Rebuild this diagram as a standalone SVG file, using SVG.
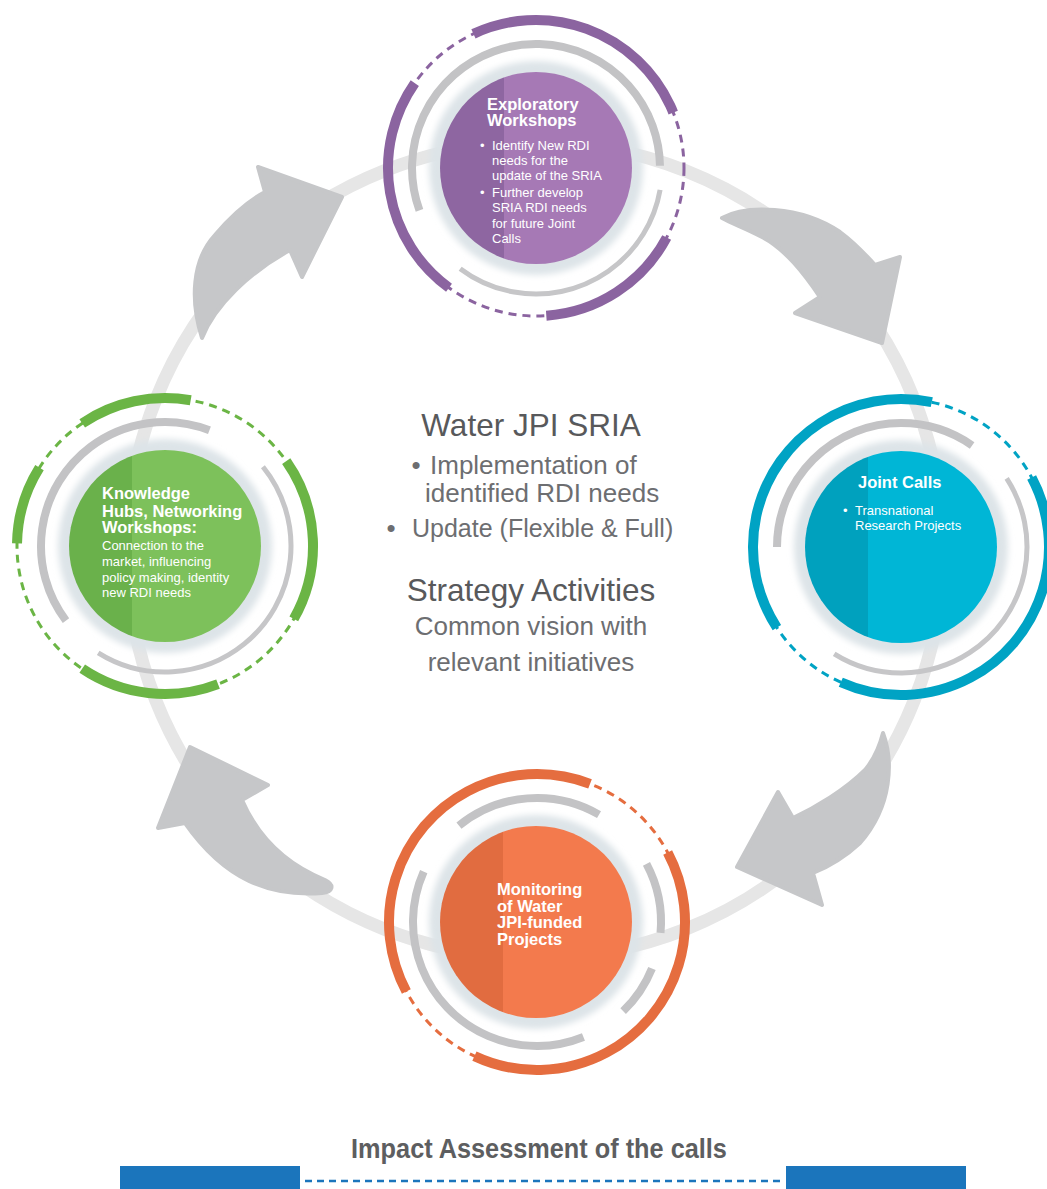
<svg xmlns="http://www.w3.org/2000/svg" width="1047" height="1189" viewBox="0 0 1047 1189">
<defs>
<style>
.ring{fill:none;stroke:#e6e6e6;stroke-width:13}
.arrow{fill:#c6c7c9;stroke:#c6c7c9;stroke-width:4;stroke-linejoin:round}
.arc{fill:none;stroke-width:10}
.dash{fill:none;stroke-width:3;stroke-dasharray:8 6}
.gk{fill:none;stroke:#c3c3c5;stroke-width:8}
.gt{fill:none;stroke:#c6c6c8;stroke-width:5}
.halo{fill:#dde4e8;filter:url(#blur)}
.hb{font-family:"Liberation Sans",Arial,sans-serif;font-weight:bold;font-size:16.5px;fill:#fff}
.hr{font-family:"Liberation Sans",Arial,sans-serif;font-size:13px;fill:#fff}
.ch{font-family:"Liberation Sans",Arial,sans-serif;font-size:31.5px;fill:#58595b}
.cb{font-family:"Liberation Sans",Arial,sans-serif;font-size:26px;fill:#6d6e71}
.cb25{font-size:25px}
.purple{stroke:#8b64a0}
.teal{stroke:#00a3c4}
.orange{stroke:#e56d3f}
.green{stroke:#6bb545}
</style>
<filter id="blur" x="-20%" y="-20%" width="140%" height="140%"><feGaussianBlur stdDeviation="3"/></filter>
<linearGradient id="fPurple" x1="0" y1="0" x2="1" y2="0"><stop offset="0" stop-color="#8e66a1"/><stop offset="0.335" stop-color="#8e66a1"/><stop offset="0.335" stop-color="#a679b5"/><stop offset="1" stop-color="#a679b5"/></linearGradient>
<linearGradient id="fTeal" x1="0" y1="0" x2="1" y2="0"><stop offset="0" stop-color="#00a1be"/><stop offset="0.33" stop-color="#00a1be"/><stop offset="0.33" stop-color="#00b6d6"/><stop offset="1" stop-color="#00b6d6"/></linearGradient>
<linearGradient id="fOrange" x1="0" y1="0" x2="1" y2="0"><stop offset="0" stop-color="#e16c40"/><stop offset="0.33" stop-color="#e16c40"/><stop offset="0.33" stop-color="#f37a4d"/><stop offset="1" stop-color="#f37a4d"/></linearGradient>
<linearGradient id="fGreen" x1="0" y1="0" x2="1" y2="0"><stop offset="0" stop-color="#6ab14b"/><stop offset="0.33" stop-color="#6ab14b"/><stop offset="0.33" stop-color="#7dc15b"/><stop offset="1" stop-color="#7dc15b"/></linearGradient>
</defs>
<rect width="1047" height="1189" fill="#ffffff"/>

<g id="connectors">
<circle class="ring" cx="535" cy="550" r="408"/>
<path id="arrow-tl" class="arrow" d="M265,192 L258,167 L342,197 L302,277 L290,250 C250,272 215,305 202,338 C190,300 192,260 215,235 C232,215 250,200 265,192 Z"/>
<path id="arrow-tr" class="arrow" d="M722,218 C745,205 800,205 840,232 C855,243 866,255 875,265 L900,257 L882,343 L795,313 L820,297 C805,275 785,248 760,236 C745,228 733,224 722,218 Z"/>
<path id="arrow-br" class="arrow" d="M883,733 C893,760 893,805 860,843 C845,857 830,866 813,873 L822,905 L737,867 L778,792 L793,818 C815,808 845,790 865,770 C875,758 880,745 883,733 Z"/>
<path id="arrow-bl" class="arrow" d="M190,747 L268,785 L242,800 C255,830 280,862 325,880 C335,885 333,892 322,893 C270,897 225,880 185,823 L158,828 Z"/>
</g>

<g id="node-exploratory">
<circle class="dash purple" cx="536" cy="168" r="148"/>
<circle class="arc purple" cx="536" cy="168" r="148" pathLength="360" stroke-dasharray="93 360" transform="rotate(245 536 168)"/>
<circle class="arc purple" cx="536" cy="168" r="148" pathLength="360" stroke-dasharray="58 360" transform="rotate(28 536 168)"/>
<circle class="arc purple" cx="536" cy="168" r="148" pathLength="360" stroke-dasharray="89 360" transform="rotate(126 536 168)"/>
<circle class="gk" cx="536" cy="168" r="124" pathLength="360" stroke-dasharray="199 360" transform="rotate(160 536 168)"/>
<circle class="gt" cx="536" cy="168" r="126" pathLength="360" stroke-dasharray="117 360" transform="rotate(10 536 168)"/>
<circle class="halo" cx="536" cy="168" r="107"/>
<circle cx="536" cy="168" r="96" fill="url(#fPurple)"/>
<text class="hb" x="487" y="110">Exploratory</text>
<text class="hb" x="487" y="126">Workshops</text>
<text class="hr" x="480" y="150">•</text>
<text class="hr" x="492" y="150">Identify New RDI</text>
<text class="hr" x="492" y="165">needs for the</text>
<text class="hr" x="492" y="180">update of the SRIA</text>
<text class="hr" x="480" y="197">•</text>
<text class="hr" x="492" y="197">Further develop</text>
<text class="hr" x="492" y="212">SRIA RDI needs</text>
<text class="hr" x="492" y="228">for future Joint</text>
<text class="hr" x="492" y="243">Calls</text>
</g>

<g id="node-joint-calls">
<circle class="dash teal" cx="901" cy="547" r="148"/>
<circle class="arc teal" cx="901" cy="547" r="148" pathLength="360" stroke-dasharray="135 360" transform="rotate(147 901 547)"/>
<circle class="arc teal" cx="901" cy="547" r="148" pathLength="360" stroke-dasharray="142 360" transform="rotate(-28 901 547)"/>
<circle class="gk" cx="901" cy="547" r="124" pathLength="360" stroke-dasharray="125 360" transform="rotate(180 901 547)"/>
<circle class="gt" cx="901" cy="547" r="126" pathLength="360" stroke-dasharray="155 360" transform="rotate(-33 901 547)"/>
<circle class="halo" cx="901" cy="547" r="107"/>
<circle cx="901" cy="547" r="96" fill="url(#fTeal)"/>
<text class="hb" x="858" y="488">Joint Calls</text>
<text class="hr" x="843" y="515">•</text>
<text class="hr" x="855" y="515">Transnational</text>
<text class="hr" x="855" y="530">Research Projects</text>
</g>

<g id="node-monitoring">
<circle class="dash orange" cx="537" cy="922" r="148"/>
<circle class="arc orange" cx="537" cy="922" r="148" pathLength="360" stroke-dasharray="139 360" transform="rotate(152 537 922)"/>
<circle class="arc orange" cx="537" cy="922" r="148" pathLength="360" stroke-dasharray="143 360" transform="rotate(-28 537 922)"/>
<circle class="gk" cx="537" cy="922" r="124" pathLength="360" stroke-dasharray="69 360" transform="rotate(231 537 922)"/>
<circle class="gk" cx="537" cy="922" r="124" pathLength="360" stroke-dasharray="136 360" transform="rotate(68 537 922)"/>
<circle class="gk" cx="537" cy="922" r="124" pathLength="360" stroke-dasharray="33 360" transform="rotate(-28 537 922)"/>
<circle class="gk" cx="537" cy="922" r="124" pathLength="360" stroke-dasharray="24 360" transform="rotate(22 537 922)"/>
<circle class="halo" cx="536" cy="922" r="107"/>
<circle cx="536" cy="922" r="96" fill="url(#fOrange)"/>
<text class="hb" x="497" y="895">Monitoring</text>
<text class="hb" x="497" y="912">of Water</text>
<text class="hb" x="497" y="928">JPI-funded</text>
<text class="hb" x="497" y="945">Projects</text>
</g>

<g id="node-knowledge">
<circle class="dash green" cx="165" cy="546" r="148"/>
<circle class="arc green" cx="165" cy="546" r="148" pathLength="360" stroke-dasharray="44 360" transform="rotate(236 165 546)"/>
<circle class="arc green" cx="165" cy="546" r="148" pathLength="360" stroke-dasharray="31 360" transform="rotate(181 165 546)"/>
<circle class="arc green" cx="165" cy="546" r="148" pathLength="360" stroke-dasharray="64.5 360" transform="rotate(-35 165 546)"/>
<circle class="arc green" cx="165" cy="546" r="148" pathLength="360" stroke-dasharray="55 360" transform="rotate(69 165 546)"/>
<circle class="gk" cx="165" cy="546" r="124" pathLength="360" stroke-dasharray="148 360" transform="rotate(143 165 546)"/>
<circle class="gt" cx="165" cy="546" r="126" pathLength="360" stroke-dasharray="161 360" transform="rotate(-39 165 546)"/>
<circle class="halo" cx="165" cy="546" r="107"/>
<circle cx="165" cy="546" r="96" fill="url(#fGreen)"/>
<text class="hb" x="102" y="499">Knowledge</text>
<text class="hb" x="102" y="517">Hubs, Networking</text>
<text class="hb" x="102" y="533">Workshops:</text>
<text class="hr" x="102" y="550">Connection to the</text>
<text class="hr" x="102" y="566">market, influencing</text>
<text class="hr" x="102" y="582">policy making, identity</text>
<text class="hr" x="102" y="597">new RDI needs</text>
</g>

<g id="center-text">
<text class="ch" x="531" y="436" text-anchor="middle">Water JPI SRIA</text>
<text class="cb" x="416" y="474" text-anchor="middle">•</text>
<text class="cb" x="430" y="474">Implementation of</text>
<text class="cb" x="425" y="502">identified RDI needs</text>
<text class="cb" x="391" y="537" text-anchor="middle">•</text>
<text class="cb cb25" x="412" y="537">Update (Flexible &amp; Full)</text>
<text class="ch" x="531" y="601" text-anchor="middle">Strategy Activities</text>
<text class="cb" x="531" y="635" text-anchor="middle">Common vision with</text>
<text class="cb" x="531" y="671" text-anchor="middle">relevant initiatives</text>
</g>

<g id="impact">
<text transform="translate(539 1158) scale(0.904 1)" text-anchor="middle" font-family="Liberation Sans, Arial, sans-serif" font-weight="bold" font-size="28" fill="#5d5e60">Impact Assessment of the calls</text>
<rect x="120" y="1166" width="180" height="23" fill="#1b75bc"/>
<rect x="786" y="1166" width="180" height="23" fill="#1b75bc"/>
<line x1="305" y1="1181" x2="785" y2="1181" stroke="#1b75bc" stroke-width="2.5" stroke-dasharray="7 5"/>
</g>
</svg>
